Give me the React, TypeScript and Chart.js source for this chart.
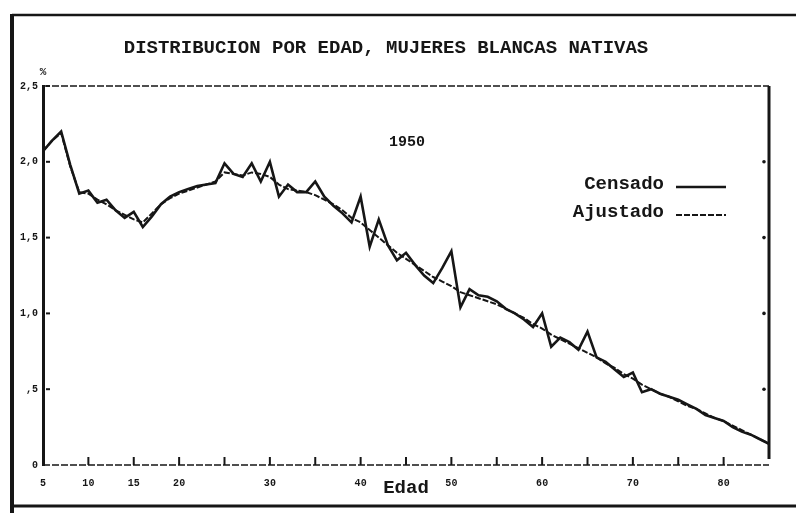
import React, { useEffect, useRef } from "react";
import { Chart, registerables } from "chart.js";

Chart.register(...registerables);

const TITLE = "DISTRIBUCION POR EDAD, MUJERES BLANCAS NATIVAS";
const YEAR_LABEL = "1950";
const X_TITLE = "Edad";
const Y_UNIT = "%";

const AGES = [
  5, 6, 7, 8, 9, 10, 11, 12, 13, 14, 15, 16, 17, 18, 19, 20, 21, 22, 23, 24,
  25, 26, 27, 28, 29, 30, 31, 32, 33, 34, 35, 36, 37, 38, 39, 40, 41, 42, 43, 44,
  45, 46, 47, 48, 49, 50, 51, 52, 53, 54, 55, 56, 57, 58, 59, 60, 61, 62, 63, 64,
  65, 66, 67, 68, 69, 70, 71, 72, 73, 74, 75, 76, 77, 78, 79, 80, 81, 82, 83, 84, 85,
];

const CENSADO = [
  2.07, 2.14, 2.2, 1.98, 1.79, 1.81, 1.73, 1.75, 1.68, 1.63, 1.67, 1.57, 1.64, 1.72, 1.77, 1.8, 1.82, 1.84, 1.85, 1.86,
  1.99, 1.92, 1.9, 1.99, 1.87, 2.0, 1.77, 1.85, 1.8, 1.8, 1.87, 1.77, 1.71, 1.66, 1.6, 1.77, 1.44, 1.62, 1.45, 1.35,
  1.4, 1.32, 1.25, 1.2, 1.3, 1.41, 1.04, 1.16, 1.12, 1.11, 1.08, 1.03, 1.0, 0.96, 0.91, 1.0, 0.78, 0.84, 0.81, 0.76,
  0.88, 0.71, 0.68, 0.63, 0.58, 0.61, 0.48, 0.5, 0.47, 0.45, 0.43, 0.4, 0.37, 0.33, 0.31, 0.29, 0.25, 0.22, 0.2, 0.17, 0.14,
];

const AJUSTADO = [
  2.07, 2.14, 2.19, 1.97, 1.8, 1.79, 1.75, 1.72, 1.68, 1.65, 1.62, 1.6, 1.66, 1.72, 1.76, 1.79, 1.81, 1.83, 1.85, 1.87,
  1.93, 1.92, 1.91, 1.93, 1.92, 1.9, 1.85, 1.82, 1.81, 1.8, 1.78, 1.75, 1.72, 1.68, 1.63, 1.6, 1.55, 1.5, 1.45, 1.4,
  1.36, 1.32, 1.28, 1.24, 1.21, 1.18, 1.14, 1.12, 1.1, 1.08, 1.06, 1.03, 1.0, 0.97, 0.93, 0.9, 0.86, 0.83, 0.8, 0.77,
  0.74, 0.71, 0.67, 0.64, 0.6, 0.57, 0.53, 0.5, 0.47, 0.45, 0.42, 0.39, 0.37, 0.34, 0.31, 0.29, 0.26, 0.23, 0.2, 0.17, 0.14,
];

const X_TICK_LABELS: Record<number, string> = {
  5: "5", 10: "10", 15: "15", 20: "20", 30: "30", 40: "40", 50: "50", 60: "60", 70: "70", 80: "80",
};
const Y_TICK_LABELS: Record<string, string> = {
  "0": "0", "0.5": ",5", "1": "1,0", "1.5": "1,5", "2": "2,0", "2.5": "2,5",
};

const INK = "#161616";
const MONO = "'Liberation Mono', 'DejaVu Sans Mono', monospace";

const decor = {
  id: "decor",
  afterDraw(chart: any) {
    const { ctx, chartArea: a, scales } = chart;
    const W = chart.width;
    ctx.save();
    ctx.strokeStyle = INK;
    ctx.fillStyle = INK;

    // outer frame
    ctx.lineWidth = 2.5;
    ctx.beginPath();
    ctx.moveTo(12, 15);
    ctx.lineTo(W, 15);
    ctx.stroke();
    ctx.lineWidth = 3;
    ctx.beginPath();
    ctx.moveTo(12, 506);
    ctx.lineTo(W, 506);
    ctx.stroke();
    ctx.lineWidth = 4;
    ctx.beginPath();
    ctx.moveTo(12, 14);
    ctx.lineTo(12, chart.height);
    ctx.stroke();

    // plot frame: top dashed, bottom dashed, right solid
    ctx.lineWidth = 1.6;
    ctx.setLineDash([7, 2]);
    ctx.beginPath();
    ctx.moveTo(a.left, a.top);
    ctx.lineTo(a.right, a.top);
    ctx.moveTo(a.left, a.bottom);
    ctx.lineTo(a.right, a.bottom);
    ctx.stroke();
    ctx.setLineDash([]);
    ctx.lineWidth = 3;
    ctx.beginPath();
    ctx.moveTo(a.right, a.top);
    ctx.lineTo(a.right, a.bottom - 6);
    ctx.stroke();

    // tick marks
    ctx.lineWidth = 2;
    const xs = scales.x;
    xs.ticks.forEach((t: any) => {
      if (t.value <= xs.min || t.value >= xs.max) return;
      const px = xs.getPixelForValue(t.value);
      ctx.beginPath();
      ctx.moveTo(px, a.bottom - 8);
      ctx.lineTo(px, a.bottom);
      ctx.stroke();
    });
    const ys = scales.y;
    ys.ticks.forEach((t: any) => {
      if (t.value <= ys.min) return;
      const py = ys.getPixelForValue(t.value);
      ctx.beginPath();
      ctx.moveTo(a.left + 3, py);
      ctx.lineTo(a.left + 7, py);
      ctx.stroke();
      if (t.value < ys.max) {
        ctx.beginPath();
        ctx.arc(a.right - 5, py, 1.8, 0, Math.PI * 2);
        ctx.fill();
      }
    });

    // texts
    ctx.textBaseline = "middle";
    ctx.textAlign = "center";
    ctx.font = `bold 19px ${MONO}`;
    ctx.fillText(TITLE, 386, 48);
    ctx.font = `bold 11px ${MONO}`;
    ctx.fillText(Y_UNIT, 43, 72);
    ctx.font = `bold 15px ${MONO}`;
    ctx.fillText(YEAR_LABEL, 407, 142);

    // legend
    const legendY = [184, 212];
    chart.data.datasets.forEach((ds: any, i: number) => {
      const y = legendY[i];
      ctx.font = `bold 19px ${MONO}`;
      ctx.textAlign = "right";
      ctx.fillText(ds.label, 664, y);
      ctx.lineWidth = ds.borderWidth;
      ctx.setLineDash(ds.borderDash || []);
      ctx.beginPath();
      ctx.moveTo(676, y + 3);
      ctx.lineTo(726, y + 3);
      ctx.stroke();
      ctx.setLineDash([]);
    });
    ctx.restore();
  },
};

export default function App() {
  const ref = useRef<HTMLCanvasElement | null>(null);
  useEffect(() => {
    if (!ref.current) return;
    const chart = new Chart(ref.current, {
      type: "line",
      data: {
        labels: AGES,
        datasets: [
          {
            label: "Censado",
            data: AGES.map((a, i) => ({ x: a, y: CENSADO[i] })),
            borderColor: INK,
            borderWidth: 2.6,
            pointRadius: 0,
            tension: 0,
          },
          {
            label: "Ajustado",
            data: AGES.map((a, i) => ({ x: a, y: AJUSTADO[i] })),
            borderColor: INK,
            borderWidth: 2,
            borderDash: [6, 2],
            pointRadius: 0,
            tension: 0,
          },
        ],
      },
      options: {
        animation: false,
        responsive: false,
        maintainAspectRatio: false,
        layout: { padding: { top: 86, right: 27, left: 0, bottom: 0 } },
        plugins: { legend: { display: false }, title: { display: false }, tooltip: { enabled: false } },
        scales: {
          x: {
            type: "linear",
            min: 5,
            max: 85,
            grid: { display: false },
            border: { display: false },
            ticks: {
              stepSize: 5,
              autoSkip: false,
              maxRotation: 0,
              padding: 4,
              color: INK,
              font: { family: MONO, size: 10, weight: "bold" },
              callback: (v: any) => X_TICK_LABELS[Number(v)] ?? "",
            },
            title: {
              display: true,
              text: X_TITLE,
              color: INK,
              font: { family: MONO, size: 19, weight: "bold" },
              padding: { top: 0, bottom: 13 },
            },
            afterFit: (s: any) => {
              s.height = 48;
            },
          },
          y: {
            min: 0,
            max: 2.5,
            grid: { display: false, tickLength: 0 },
            border: { display: true, width: 3, color: INK },
            ticks: {
              stepSize: 0.5,
              padding: 5,
              color: INK,
              font: { family: MONO, size: 10, weight: "bold" },
              callback: (v: any) => Y_TICK_LABELS[String(Number(v))] ?? "",
            },
            afterFit: (s: any) => {
              s.width = 43;
            },
          },
        },
      },
      plugins: [decor],
    });
    return () => chart.destroy();
  }, []);
  return (
    <div style={{ position: "fixed", left: 0, top: 0, width: 796, height: 513, background: "#fff" }}>
      <canvas ref={ref} width={796} height={513} style={{ width: 796, height: 513, display: "block" }} />
    </div>
  );
}
